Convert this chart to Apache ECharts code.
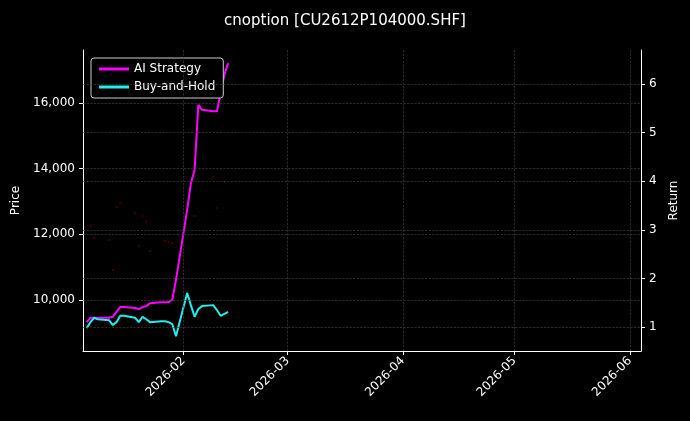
<!DOCTYPE html>
<html><head><meta charset="utf-8">
<script src="https://cdn.jsdelivr.net/npm/echarts@6/dist/echarts.min.js"></script>
<style>html,body{margin:0;background:#000}#c{width:690px;height:421px}</style>
</head><body><div id="c"></div>
<script>
const dates = ['2026-01-06','2026-01-07','2026-01-08','2026-01-09','2026-01-12','2026-01-13','2026-01-14','2026-01-15','2026-01-16','2026-01-19','2026-01-20','2026-01-21','2026-01-22','2026-01-23','2026-01-26','2026-01-27','2026-01-28','2026-01-29','2026-01-30','2026-02-02','2026-02-03','2026-02-04','2026-02-05','2026-02-06','2026-02-09','2026-02-10','2026-02-11','2026-02-12','2026-02-13'];
const aiStrategy = [1.10,1.19,1.19,1.19,1.19,1.21,1.31,1.41,1.41,1.39,1.37,1.41,1.43,1.49,1.51,1.51,1.51,1.56,1.97,3.41,3.96,4.23,5.57,5.47,5.44,5.44,5.81,6.19,6.43];
const buyHold = [0.98,1.10,1.19,1.16,1.14,1.04,1.10,1.23,1.23,1.19,1.10,1.21,1.16,1.10,1.12,1.12,1.10,1.06,0.81,1.70,1.45,1.21,1.37,1.43,1.45,1.35,1.23,1.27,1.31];
const priceDates = ['2026-01-07','2026-01-08','2026-01-12','2026-01-13','2026-01-14','2026-01-15','2026-01-19','2026-01-20','2026-01-21','2026-01-22','2026-01-23','2026-01-27','2026-01-28','2026-01-29','2026-02-04','2026-02-05','2026-02-09','2026-02-10','2026-02-12'];
const prices = [12256,11890,11830,10915,12835,12957,12652,11646,12561,12378,11494,11800,11768,11738,12561,15060,13750,12805,13597];
const xTicks = ['2026-02-01','2026-03-01','2026-04-01','2026-05-01','2026-06-01'];
const priceTicks = [10000,12000,14000,16000];
const returnTicks = [1,2,3,4,5,6];

const ts = d => +new Date(d + 'T00:00:00Z');
const tickTs = xTicks.map(ts);
const chart = echarts.init(document.getElementById('c'));
const lab = {color:'#fff',fontSize:12,fontFamily:'DejaVu Sans'};
const axLine = {show:true,lineStyle:{color:'#fff'}};
const tick = vals => ({show:true,lineStyle:{color:'#fff'},length:4,customValues:vals});
const gridLine = {color:'#444',type:'dashed',width:0.6};
chart.setOption({
  backgroundColor:'#000',
  animation:false,
  title:{text:'cnoption [CU2612P104000.SHF]',left:'center',top:9,textStyle:{color:'#fff',fontSize:15,fontWeight:'normal',fontFamily:'DejaVu Sans'}},
  legend:{left:91,top:58,orient:'vertical',itemWidth:30,itemHeight:3,itemGap:6,padding:[5,8],
    backgroundColor:'#000',borderColor:'#ccc',borderWidth:1,borderRadius:3,
    textStyle:lab,
    data:[{name:'AI Strategy',icon:'rect'},{name:'Buy-and-Hold',icon:'rect'}]},
  grid:{left:83,right:49,top:50,bottom:70},
  xAxis:{type:'value',min:ts('2026-01-05'),max:ts('2026-06-04'),axisLine:axLine,
    axisLabel:{...lab,rotate:45,customValues:tickTs,
      formatter:v=>{const d=new Date(v);return d.getUTCFullYear()+'-'+String(d.getUTCMonth()+1).padStart(2,'0');}},
    axisTick:tick(tickTs),
    splitLine:{show:false}},
  yAxis:[
    {type:'value',name:'Price',nameLocation:'middle',nameGap:52,nameTextStyle:lab,min:8445,max:17615,
     axisLine:axLine,axisLabel:{...lab,customValues:priceTicks},axisTick:tick(priceTicks),splitLine:{show:false}},
    {type:'value',name:'Return',nameLocation:'middle',nameGap:26,nameTextStyle:lab,min:0.506,max:6.70,position:'right',
     axisLine:axLine,axisLabel:{...lab,customValues:returnTicks},axisTick:tick(returnTicks),splitLine:{show:false}}
  ],
  series:[
    {type:'scatter',yAxisIndex:0,symbolSize:2,itemStyle:{color:'#6a0000'},silent:true,
     data:priceDates.map((d,i)=>[ts(d),prices[i]]),
     markLine:{silent:true,symbol:'none',label:{show:false},lineStyle:gridLine,
       data:priceTicks.map(v=>({yAxis:v})).concat(tickTs.map(v=>({xAxis:v})))}},
    {type:'line',name:'AI Strategy',yAxisIndex:1,showSymbol:false,lineStyle:{color:'#ff00ff',width:2},itemStyle:{color:'#ff00ff'},
     data:dates.map((d,i)=>[ts(d),aiStrategy[i]]),
     markLine:{silent:true,symbol:'none',label:{show:false},lineStyle:gridLine,data:returnTicks.map(v=>({yAxis:v}))}},
    {type:'line',name:'Buy-and-Hold',yAxisIndex:1,showSymbol:false,lineStyle:{color:'#22eeee',width:2},itemStyle:{color:'#22eeee'},
     data:dates.map((d,i)=>[ts(d),buyHold[i]])}
  ]
});
</script></body></html>
